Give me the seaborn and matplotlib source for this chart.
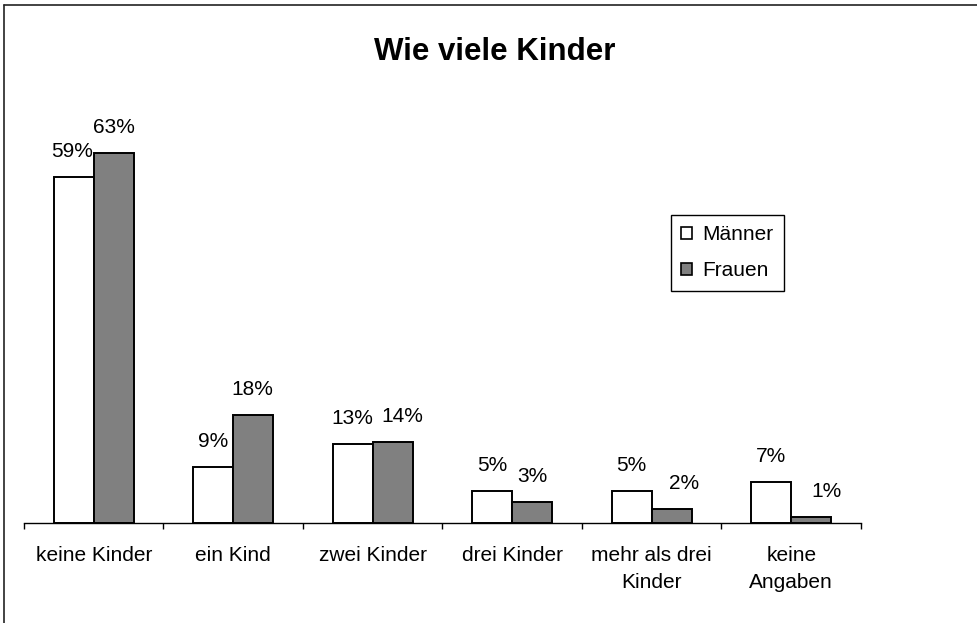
import matplotlib
matplotlib.use("Agg")
import matplotlib.pyplot as plt
import seaborn as sns
import pandas as pd
from matplotlib.patches import Patch
from matplotlib.lines import Line2D

categories = ["keine Kinder", "ein Kind", "zwei Kinder", "drei Kinder",
              "mehr als drei\nKinder", "keine\nAngaben"]
maenner = [58.6, 9.4, 13.3, 5.4, 5.4, 6.8]
frauen = [62.7, 18.3, 13.6, 3.4, 2.3, 0.9]
series = ["Männer", "Frauen"]
title = "Wie viele Kinder"

df = pd.DataFrame({
    "Kategorie": categories * 2,
    "Wert": maenner + frauen,
    "Gruppe": [series[0]] * len(categories) + [series[1]] * len(categories),
})

sns.set_style("white", {"text.color": "black", "axes.labelcolor": "black",
                        "xtick.color": "black", "ytick.color": "black",
                        "axes.edgecolor": "black", "xtick.bottom": True})
plt.rcParams["font.family"] = ["Liberation Sans", "DejaVu Sans"]

W, H = 978, 623
fig = plt.figure(figsize=(W / 100, H / 100), dpi=100)
ax = fig.add_axes([24 / W, 1 - 522.5 / H, 837 / W, (522.5 - 113) / H])

colors = {"Männer": "#ffffff", "Frauen": "#808080"}
sns.barplot(data=df, x="Kategorie", y="Wert", hue="Gruppe", palette=colors,
            width=0.573, gap=0, edgecolor="black", linewidth=1.4,
            saturation=1, legend=False, ax=ax, order=categories,
            hue_order=series)

ax.set_xlim(-0.5, len(categories) - 0.5)
ax.set_ylim(0, 69.5)

# value labels with small horizontal offsets (as in reference)
xoffs = {
    "Männer": [-1, 0, 0, 0, 0, 0],
    "Frauen": [0, -1, 7, 0, 9, 11],
}
for cont, name in zip(ax.containers, series):
    for i, bar in enumerate(cont):
        v = bar.get_height()
        ax.annotate(f"{v:.0f}%", (bar.get_x() + bar.get_width() / 2, v),
                    xytext=(xoffs[name][i], 14.5), textcoords="offset points",
                    ha="center", va="baseline", fontsize=15, color="black")

# axes styling
for s in ["top", "right", "left"]:
    ax.spines[s].set_visible(False)
ax.spines["bottom"].set_color("black")
ax.spines["bottom"].set_linewidth(1.0)
ax.set_yticks([])
ax.set_xlabel("")
ax.set_ylabel("")
ax.set_xticks(range(len(categories)))
ax.set_xticklabels(categories, fontsize=15, linespacing=1.55, va="top",
                   color="black")
ax.tick_params(axis="x", which="major", length=0, pad=17)
ax.set_xticks([i - 0.5 for i in range(len(categories) + 1)], minor=True)
ax.tick_params(axis="x", which="minor", bottom=True, length=4, width=1.0,
               color="black", direction="out")

fig.text(495 / W, 1 - 52 / H, title, ha="center", va="center",
         fontsize=22.5, fontweight="bold", color="black")

handles = [Patch(facecolor=colors[s], edgecolor="black", linewidth=1.2, label=s)
           for s in series]
leg = fig.legend(handles=handles, loc="upper left",
                 bbox_to_anchor=(671 / W, 1 - 215 / H), fontsize=15,
                 handlelength=0.5, handleheight=0.5, handletextpad=0.5,
                 labelspacing=0.8, borderpad=0.5, borderaxespad=0,
                 frameon=True, fancybox=False, framealpha=1,
                 edgecolor="black", labelcolor="black")
leg.get_frame().set_linewidth(1.0)

# outer border (top and left visible only)
fig.add_artist(Line2D([4 / W, 1.0], [1 - 5 / H, 1 - 5 / H],
                      transform=fig.transFigure, color="#222222", lw=1.2))
fig.add_artist(Line2D([4 / W, 4 / W], [0, 1 - 5 / H],
                      transform=fig.transFigure, color="#222222", lw=1.2))

fig.savefig("out.png", dpi=100, facecolor="white")
